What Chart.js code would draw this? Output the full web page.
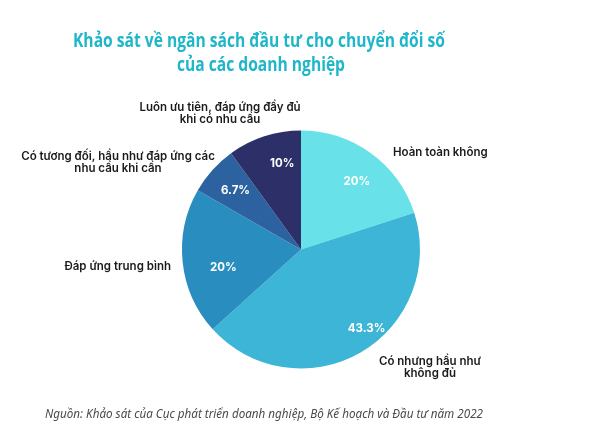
<!DOCTYPE html>
<html>
<head>
<meta charset="utf-8">
<script src="https://cdn.jsdelivr.net/npm/chart.js@4"></script>
<style>
  html, body { margin: 0; padding: 0; background: #fff; }
  #wrap { width: 600px; height: 447px; }
</style>
</head>
<body>
<div id="wrap"><canvas id="pie_chart"></canvas></div>
<script>
    const titulo = ['Khảo sát về ngân sách đầu tư cho chuyển đổi số', 'của các doanh nghiệp']
    const fonte = 'Nguồn: Khảo sát của Cục phát triển doanh nghiệp, Bộ Kế hoạch và Đầu tư năm 2022'
    const categorias = [
        ['Hoàn toàn không'],
        ['Có nhưng hầu như', 'không đủ'],
        ['Đáp ứng trung bình'],
        ['Có tương đối, hầu như đáp ứng các', 'nhu cầu khi cần'],
        ['Luôn ưu tiên, đáp ứng đầy đủ', 'khi có nhu cầu']
    ]
    const valores = [20, 43.3, 20, 6.7, 10]
    const rotulos = ['20%', '43.3%', '20%', '6.7%', '10%']
    const cores = ['#68e2e8', '#3db5d6', '#2a8dc0', '#2b629f', '#2c2f68']

    // where the outside labels sit (x, y, align)
    var posicoesNomes = [
        { x: 393, y: 153, align: 'left' },
        { x: 430, y: 362, align: 'center' },
        { x: 171, y: 267, align: 'right' },
        { x: 118, y: 157, align: 'center' },
        { x: 220, y: 108, align: 'center' }
    ];
    // radius fraction / angle shift for the % inside the slices
    var raioRotulo = [0.74, 0.86, 0.67, 0.74, 0.74];
    var deslocAngulo = [0.06, -0.17, -0.12, 0, 0.1];

    const textosPlugin = {
        id: 'textos',
        afterDraw(chart) {
            const ctx = chart.ctx;
            ctx.save();
            // title (reference font is narrower, squeeze it)
            ctx.fillStyle = '#1fb6c9';
            ctx.font = 'bold 20px "Open Sans"';
            ctx.textAlign = 'center';
            ctx.textBaseline = 'middle';
            ctx.fillText(titulo[0], 259, 41, 372);
            ctx.fillText(titulo[1], 261, 65, 168);

            // percentages
            const meta = chart.getDatasetMeta(0);
            ctx.fillStyle = '#ffffff';
            ctx.font = 'bold 11.5px Inter';
            meta.data.forEach((arc, i) => {
                const p = arc.getProps(['x', 'y', 'startAngle', 'endAngle', 'outerRadius'], true);
                const ang = (p.startAngle + p.endAngle) / 2 + deslocAngulo[i];
                const r = p.outerRadius * raioRotulo[i];
                ctx.fillText(rotulos[i], p.x + Math.cos(ang) * r, p.y + Math.sin(ang) * r);
            });

            // category names
            ctx.fillStyle = '#1a1a1a';
            ctx.font = '600 11.5px Inter';
            categorias.forEach((linhas, i) => {
                const pos = posicoesNomes[i];
                ctx.textAlign = pos.align;
                linhas.forEach((l, j) => {
                    ctx.fillText(l, pos.x, pos.y + j * 11.5);
                });
            });

            // source
            ctx.fillStyle = '#4a4a4a';
            ctx.font = 'italic 12px "Noto Sans"';
            ctx.textAlign = 'left';
            ctx.fillText(fonte, 45, 415, 438);
            ctx.restore();
        }
    };

    const data = {
        labels: categorias,
        datasets: [{
            data: valores,
            backgroundColor: cores,
            borderWidth: 0
        }]
    }
    const config = {
        type: 'pie',
        data: data,
        options: {
            responsive: true,
            maintainAspectRatio: false,
            animation: false,
            layout: {
                padding: { top: 130, bottom: 78, left: 182, right: 180 }
            },
            plugins: {
                legend: { display: false },
                tooltip: { enabled: false }
            }
        },
        plugins: [textosPlugin]
    }

    var ctx = document.getElementById('pie_chart');
    var pieChart = new Chart(ctx, config)
</script>
</body>
</html>
